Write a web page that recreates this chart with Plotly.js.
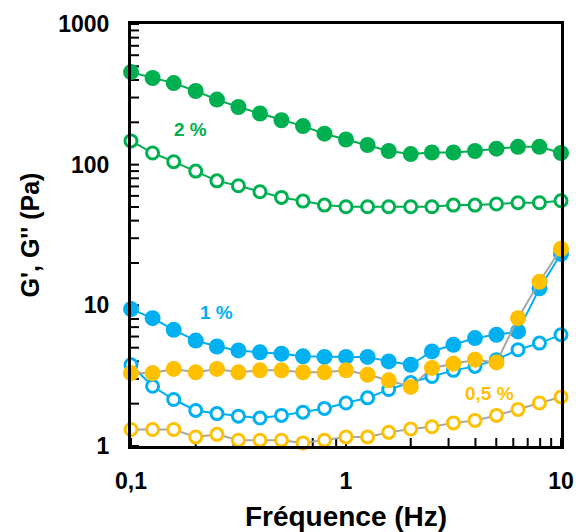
<!DOCTYPE html>
<html>
<head>
<meta charset="utf-8">
<script src="https://cdn.plot.ly/plotly-3.0.1.min.js"></script>
<style>html,body{margin:0;padding:0;background:#fff;}#chart{width:576px;height:532px;}</style>
</head>
<body>
<div id="chart"></div>
<script>
const freq = [0.1, 0.126, 0.158, 0.2, 0.251, 0.316, 0.398, 0.501, 0.631, 0.794, 1, 1.26, 1.58, 2, 2.51, 3.16, 3.98, 5.01, 6.31, 7.94, 10];

const gp2  = [455, 413, 380, 334, 290, 257, 231, 207, 188, 166, 151, 138, 125, 119, 122, 122, 125, 130, 134, 134, 121];
const gpp2 = [147.5, 121, 105, 90, 76.7, 70.8, 64.2, 58.5, 55.1, 51.6, 50.2, 50.2, 50.2, 50.2, 50.2, 51.6, 51.6, 52.5, 53.6, 53.6, 55.4];
const gp1  = [9.4, 8.11, 6.7, 5.62, 5.1, 4.78, 4.63, 4.53, 4.34, 4.3, 4.3, 4.3, 3.99, 3.78, 4.7, 5.24, 5.85, 6.18, 6.52, 13.2, 23.2];
const gpp1 = [3.78, 2.66, 2.14, 1.79, 1.7, 1.63, 1.58, 1.65, 1.74, 1.85, 2.02, 2.2, 2.52, 2.83, 3.12, 3.45, 3.68, 4.11, 4.83, 5.39, 6.18];
const gp05 = [3.3, 3.3, 3.53, 3.34, 3.53, 3.34, 3.45, 3.45, 3.34, 3.34, 3.45, 3.21, 2.93, 2.63, 3.59, 3.85, 4.11, 3.93, 8.11, 14.7, 25.2];
const gpp05 = [1.31, 1.31, 1.31, 1.16, 1.21, 1.1, 1.1, 1.1, 1.05, 1.1, 1.16, 1.16, 1.25, 1.32, 1.37, 1.46, 1.52, 1.65, 1.82, 2.02, 2.23];

const xTickVals = [0.1, 1, 10];
const xTickText = ["0,1", "1", "10"];
const yTickVals = [1, 10, 100, 1000];
const yTickText = ["1", "10", "100", "1000"];

const labels = ["2 %", "1 %", "0,5 %"];
const labelFreq = [0.19, 0.25, 4.64];
const labelVal = [179, 8.85, 2.38];

const GREEN = "#00B050", BLUE = "#00B0F0", ORANGE = "#FFC000", GREY = "#A6A6A6";

const W = 576, H = 532, M = {l: 131, r: 15, t: 24, b: 86};
const plotW = W - M.l - M.r, plotH = H - M.t - M.b;
const TICK = 8;

// decades plus minor ticks (2..9 of each decade)
function allTickVals(vals) {
  const v = [];
  for (let i = 0; i < vals.length; i++) {
    v.push(vals[i]);
    if (i < vals.length - 1) for (let m = 2; m <= 9; m++) v.push(m * vals[i]);
  }
  return v;
}
const xRange = [Math.log10(xTickVals[0]), Math.log10(xTickVals[xTickVals.length - 1])];
const yRange = [Math.log10(yTickVals[0]), Math.log10(yTickVals[yTickVals.length - 1])];

// inward tick marks drawn as a line trace through the axes' own log scales
const xTickEnd = Math.pow(10, yRange[0] + TICK / plotH * (yRange[1] - yRange[0]));
const yTickEnd = Math.pow(10, xRange[0] + TICK / plotW * (xRange[1] - xRange[0]));
const tx = [], ty = [];
allTickVals(xTickVals).forEach(v => { tx.push(v, v, null); ty.push(yTickVals[0], xTickEnd, null); });
allTickVals(yTickVals).forEach(v => { tx.push(xTickVals[0], yTickEnd, null); ty.push(v, v, null); });
const tickTrace = {x: tx, y: ty, type: 'scatter', mode: 'lines', connectgaps: false,
  line: {color: '#000', width: 2}, hoverinfo: 'skip', cliponaxis: false};

function filled(y, col, lineCol) {
  return {x: freq, y: y, type: 'scatter', mode: 'lines+markers',
    line: {color: lineCol, width: 2},
    marker: {symbol: 'circle', size: 16, color: col, line: {width: 0}},
    cliponaxis: false, hoverinfo: 'skip'};
}
function open(y, col, lineCol) {
  return {x: freq, y: y, type: 'scatter', mode: 'lines+markers',
    line: {color: lineCol, width: 2},
    marker: {symbol: 'circle', size: 12, color: '#ffffff', line: {width: 3, color: col}},
    cliponaxis: false, hoverinfo: 'skip'};
}

const data = [
  tickTrace,
  filled(gp2, GREEN, GREEN), open(gpp2, GREEN, GREEN),
  filled(gp1, BLUE, BLUE), open(gpp1, BLUE, BLUE),
  filled(gp05, ORANGE, GREY), open(gpp05, ORANGE, GREY)
];

const font = {family: 'Liberation Sans, Arial, sans-serif', color: '#000', weight: 'bold'};
function axisCommon(vals, texts) {
  return {
    type: 'log', showgrid: false, zeroline: false,
    showline: true, linecolor: '#000', linewidth: 3, mirror: true,
    ticks: '', tickmode: 'array', tickvals: vals, ticktext: texts,
    tickfont: Object.assign({}, font, {size: 23})
  };
}

const layout = {
  width: W, height: H,
  margin: M,
  paper_bgcolor: '#fff', plot_bgcolor: '#fff',
  showlegend: false,
  xaxis: Object.assign(axisCommon(xTickVals, xTickText), {
    range: xRange,
    ticklabelstandoff: 12,
    title: {text: 'Fréquence (Hz)', font: Object.assign({}, font, {size: 28}), standoff: 14}
  }),
  yaxis: Object.assign(axisCommon(yTickVals, yTickText), {
    range: yRange,
    ticklabelstandoff: 14,
    title: {text: "G', G'' (Pa)", font: Object.assign({}, font, {size: 25}), standoff: 12}
  }),
  annotations: labels.map((t, i) => ({
    text: t, x: Math.log10(labelFreq[i]), y: Math.log10(labelVal[i]), xref: 'x', yref: 'y',
    showarrow: false, font: Object.assign({}, font, {size: 19, color: [GREEN, BLUE, ORANGE][i]})
  }))
};

Plotly.newPlot('chart', data, layout, {staticPlot: true, displayModeBar: false});
</script>
</body>
</html>
